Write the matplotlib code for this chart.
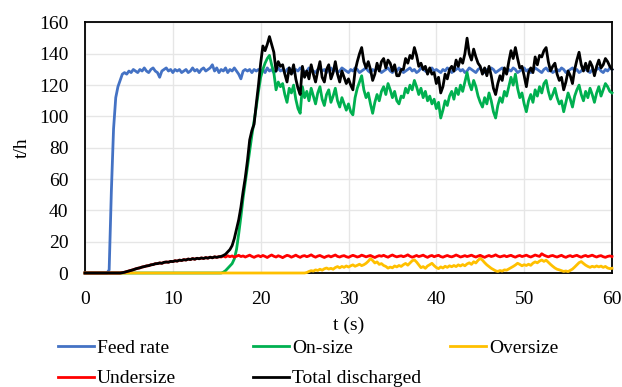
import numpy as np
import matplotlib
matplotlib.use("Agg")
import matplotlib.pyplot as plt

plt.rcParams["font.family"] = ["Liberation Serif", "DejaVu Serif"]
plt.rcParams["font.size"] = 14

# sampled every 0.25 s, 8 values per row (= 2 s per row)
STEP = 0.25

feed_rate = [
    0, 0, 0, 0, 0, 0, 0, 0,                          # 0 s
    0, 0, 0, 2, 52, 92, 112, 119,                    # 2 s
    123, 127, 128, 127, 129, 128, 130, 129,          # 4 s
    128, 130, 129, 131, 129, 128, 130, 131,          # 6 s
    129, 128, 125, 129, 130, 131, 129, 130,          # 8 s
    128, 130, 129, 130, 128, 129, 130, 128,          # 10 s
    129, 131, 129, 130, 128, 130, 131, 129,          # 12 s
    130, 131, 133, 129, 131, 128, 130, 129,          # 14 s
    131, 128, 130, 129, 131, 129, 127, 124,          # 16 s
    129, 130, 129, 130, 128, 130, 129, 130,          # 18 s
    129, 130, 128, 131, 129, 130, 128, 129,          # 20 s
    131, 129, 130, 128, 130, 131, 129, 128,          # 22 s
    130, 129, 131, 130, 128, 129, 131, 130,          # 24 s
    129, 128, 130, 131, 129, 130, 128, 130,          # 26 s
    131, 129, 130, 128, 129, 131, 130, 129,          # 28 s
    128, 130, 129, 131, 130, 128, 129, 130,          # 30 s
    131, 129, 128, 130, 129, 131, 130, 128,          # 32 s
    129, 130, 131, 129, 128, 130, 129, 131,          # 34 s
    130, 128, 129, 130, 131, 129, 130, 128,          # 36 s
    129, 131, 130, 129, 128, 130, 131, 129,          # 38 s
    130, 129, 128, 130, 129, 131, 130, 128,          # 40 s
    129, 130, 131, 129, 130, 128, 129, 131,          # 42 s
    130, 129, 128, 130, 131, 129, 128, 130,          # 44 s
    129, 131, 130, 128, 129, 130, 131, 129,          # 46 s
    128, 130, 129, 131, 130, 128, 129, 130,          # 48 s
    131, 129, 130, 128, 129, 131, 130, 129,          # 50 s
    128, 130, 131, 129, 130, 128, 129, 130,          # 52 s
    129, 131, 130, 128, 129, 130, 131, 129,          # 54 s
    130, 128, 129, 131, 130, 129, 128, 130,          # 56 s
    129, 130, 131, 129, 128, 130, 129, 131,          # 58 s
    130,
]

on_size = [
    0, 0, 0, 0, 0, 0, 0, 0,                          # 0 s
    0, 0, 0, 0, 0, 0, 0, 0,                          # 2 s
    0, 0, 0, 0, 0, 0, 0, 0,                          # 4 s
    0, 0, 0, 0, 0, 0, 0, 0,                          # 6 s
    0, 0, 0, 0, 0, 0, 0, 0,                          # 8 s
    0, 0, 0, 0, 0, 0, 0, 0,                          # 10 s
    0, 0, 0, 0, 0, 0, 0, 0,                          # 12 s
    0, 0, 0, 0, 0, 0, 0, 0.5,                        # 14 s
    1.5, 3, 4.5, 6, 9, 15, 25, 36,                   # 16 s
    48, 58, 68, 78, 88, 97, 106, 116,                # 18 s
    125, 130, 134, 137, 139, 133, 128, 117,          # 20 s
    122, 119, 121, 114, 109, 118, 115, 120,          # 22 s
    111, 105, 102, 119, 112, 116, 110, 118,          # 24 s
    113, 108, 115, 119, 111, 107, 114, 117,          # 26 s
    109, 113, 118, 110, 106, 112, 108, 104,          # 28 s
    108, 103, 101, 112, 118, 122, 126, 117,          # 30 s
    112, 115, 108, 102, 109, 114, 110, 116,          # 32 s
    119, 114, 121, 117, 112, 116, 110, 108,          # 34 s
    113, 112, 118, 115, 120, 117, 123, 119,          # 36 s
    114, 118, 112, 116, 110, 113, 108, 111,          # 38 s
    105, 109, 99, 104, 110, 107, 113, 116,           # 40 s
    111, 118, 114, 120, 116, 122, 128, 121,          # 42 s
    117, 123, 119, 113, 109, 106, 112, 108,          # 44 s
    115, 110, 103, 99, 107, 112, 109, 116,           # 46 s
    113, 119, 125, 120, 127, 118, 112, 115,          # 48 s
    108, 103, 110, 114, 109, 117, 113, 119,          # 50 s
    115, 121, 123, 116, 111, 114, 118, 112,          # 52 s
    108, 110, 103, 109, 115, 111, 106, 113,          # 54 s
    117, 120, 114, 110, 116, 112, 118, 114,          # 56 s
    109, 115, 119, 113, 117, 121, 119, 116,          # 58 s
    115,
]

oversize = [
    0, 0, 0, 0, 0, 0, 0, 0,                          # 0 s
    0, 0, 0, 0, 0, 0, 0, 0,                          # 2 s
    0, 0, 0, 0, 0, 0, 0, 0,                          # 4 s
    0, 0, 0, 0, 0, 0, 0, 0,                          # 6 s
    0, 0, 0, 0, 0, 0, 0, 0,                          # 8 s
    0, 0, 0, 0, 0, 0, 0, 0,                          # 10 s
    0, 0, 0, 0, 0, 0, 0, 0,                          # 12 s
    0, 0, 0, 0, 0, 0, 0, 0,                          # 14 s
    0, 0, 0, 0, 0, 0, 0, 0,                          # 16 s
    0, 0, 0, 0, 0, 0, 0, 0,                          # 18 s
    0, 0, 0, 0, 0, 0, 0, 0,                          # 20 s
    0, 0, 0, 0, 0, 0, 0, 0,                          # 22 s
    0, 0, 0, 0, 0, 0.3, 1.0, 1.5,                    # 24 s
    1.2, 2.0, 1.6, 2.4, 1.8, 2.7, 3.2, 2.5,          # 26 s
    3.0, 2.4, 3.5, 4.1, 3.3, 4.2, 3.6, 4.5,          # 28 s
    3.8, 4.6, 5.2, 4.3, 4.9, 5.6, 4.7, 5.3,          # 30 s
    6.2, 7.5, 9.2, 8.0, 6.4, 7.1, 5.5, 6.0,          # 32 s
    4.8, 4.2, 3.1, 3.8, 3.3, 4.5, 3.9, 4.8,          # 34 s
    4.2, 5.3, 6.1, 5.0, 6.4, 7.8, 8.4, 7.0,          # 36 s
    5.2, 3.4, 4.1, 3.0, 4.5, 5.3, 6.2, 4.7,          # 38 s
    3.5, 2.8, 3.9, 3.2, 4.3, 3.6, 4.6, 4.0,          # 40 s
    4.8, 4.1, 5.2, 4.5, 5.4, 4.6, 5.8, 6.5,          # 42 s
    5.5, 7.2, 6.4, 8.1, 9.4, 8.2, 6.6, 5.2,          # 44 s
    4.1, 3.0, 2.2, 1.4, 1.0, 1.6, 1.2, 2.0,          # 46 s
    1.8, 2.6, 3.4, 4.2, 5.1, 6.2, 5.5, 4.6,          # 48 s
    5.3, 4.8, 5.6, 4.9, 6.3, 7.1, 6.5, 7.6,          # 50 s
    8.3, 7.4, 8.2, 6.8, 5.5, 4.3, 3.2, 2.4,          # 52 s
    2.0, 1.5, 1.0, 1.3, 0.9, 1.7, 2.5, 3.8,          # 54 s
    5.2, 6.6, 7.3, 6.1, 5.0, 4.2, 3.6, 4.3,          # 56 s
    3.8, 4.5, 3.9, 4.4, 3.6, 4.2, 3.2, 2.8,          # 58 s
    3.0,
]

undersize = [
    0, 0, 0, 0, 0, 0, 0, 0,                          # 0 s
    0, 0, 0, 0, 0, 0, 0, 0,                          # 2 s
    0, 0.2, 0.5, 0.9, 1.3, 1.7, 2.1, 2.6,            # 4 s
    3.0, 3.3, 3.8, 4.1, 4.5, 4.7, 5.2, 5.4,          # 6 s
    5.9, 6.0, 6.4, 6.2, 6.8, 7.0, 6.9, 7.4,          # 8 s
    7.3, 7.8, 7.6, 8.2, 8.0, 8.5, 8.3, 8.9,          # 10 s
    8.6, 9.2, 8.8, 9.4, 9.1, 9.6, 9.3, 9.8,          # 12 s
    9.5, 10.1, 9.7, 10.3, 10.0, 10.4, 10.2, 10.8,    # 14 s
    10.2, 11.0, 10.4, 10.9, 10.1, 10.7, 11.3, 10.5,  # 16 s
    10.9, 10.2, 10.8, 11.4, 10.6, 10.0, 10.7, 11.1,  # 18 s
    10.4, 11.2, 10.6, 9.9, 10.8, 11.5, 10.7, 10.2,   # 20 s
    11.0, 10.5, 9.8, 10.6, 11.3, 10.9, 10.1, 10.7,   # 22 s
    11.4, 10.6, 10.0, 10.8, 11.1, 10.4, 10.9, 11.6,  # 24 s
    10.7, 10.1, 10.8, 11.2, 10.5, 9.9, 10.6, 11.0,   # 26 s
    10.3, 10.9, 11.5, 10.6, 10.2, 10.8, 11.1, 10.4,  # 28 s
    10.0, 10.7, 11.3, 10.8, 10.2, 10.6, 11.4, 10.9,  # 30 s
    10.3, 10.8, 11.2, 10.5, 9.9, 10.6, 11.1, 10.7,   # 32 s
    11.3, 10.6, 10.1, 10.9, 11.5, 10.8, 10.3, 10.7,  # 34 s
    11.0, 10.4, 10.9, 11.6, 10.7, 10.1, 10.6, 11.2,  # 36 s
    10.5, 10.9, 11.4, 10.6, 10.0, 10.8, 11.2, 10.4,  # 38 s
    10.9, 11.3, 10.5, 10.1, 10.7, 11.2, 10.6, 10.3,  # 40 s
    10.8, 11.5, 10.9, 10.2, 10.6, 11.1, 10.5, 10.9,  # 42 s
    11.4, 10.7, 10.2, 10.8, 11.3, 10.6, 10.0, 10.7,  # 44 s
    11.2, 10.5, 10.9, 11.6, 10.8, 10.3, 10.7, 11.1,  # 46 s
    10.4, 10.9, 11.3, 10.6, 10.1, 10.8, 11.2, 10.5,  # 48 s
    10.9, 11.4, 10.7, 10.2, 10.8, 11.5, 11.0, 10.6,  # 50 s
    12.3, 11.4, 10.8, 10.3, 10.9, 11.2, 10.6, 10.2,  # 52 s
    10.8, 11.3, 10.5, 10.0, 10.7, 11.1, 10.4, 10.9,  # 54 s
    11.3, 10.6, 10.1, 10.8, 11.2, 10.5, 10.9, 11.4,  # 56 s
    10.7, 10.2, 10.8, 11.1, 10.4, 10.0, 10.6, 10.9,  # 58 s
    10.5,
]

total_discharged = [
    0, 0, 0, 0, 0, 0, 0, 0,                          # 0 s
    0, 0, 0, 0, 0, 0, 0, 0,                          # 2 s
    0, 0.2, 0.5, 0.9, 1.3, 1.7, 2.1, 2.6,            # 4 s
    3.0, 3.3, 3.8, 4.1, 4.5, 4.7, 5.2, 5.4,          # 6 s
    5.9, 6.0, 6.4, 6.2, 6.8, 7.0, 6.9, 7.4,          # 8 s
    7.3, 7.8, 7.6, 8.2, 8.0, 8.5, 8.3, 8.9,          # 10 s
    8.6, 9.2, 8.8, 9.4, 9.1, 9.6, 9.3, 9.8,          # 12 s
    9.5, 10.1, 9.7, 10.3, 10.0, 10.4, 10.6, 11.2,    # 14 s
    12, 13.5, 15, 17.5, 22, 28, 34, 42,              # 16 s
    52, 61, 72, 85, 91, 95, 108, 120,                # 18 s
    134, 145, 142, 146, 151, 146, 141, 129,          # 20 s
    135, 132, 133, 127, 122, 131, 127, 133,          # 22 s
    124, 118, 114, 132, 125, 129, 124, 133,          # 24 s
    127, 122, 129, 135, 125, 122, 130, 133,          # 26 s
    124, 128, 135, 127, 122, 129, 125, 121,          # 28 s
    124, 120, 117, 129, 135, 140, 144, 135,          # 30 s
    131, 135, 130, 123, 127, 134, 129, 135,          # 32 s
    137, 131, 136, 134, 129, 133, 126, 126,          # 34 s
    130, 130, 137, 134, 139, 137, 144, 139,          # 36 s
    132, 134, 130, 132, 127, 131, 127, 128,          # 38 s
    121, 125, 115, 119, 127, 124, 130, 132,          # 40 s
    129, 136, 132, 137, 134, 140, 150, 140,          # 42 s
    136, 143, 138, 134, 132, 127, 131, 126,          # 44 s
    132, 126, 118, 114, 121, 126, 123, 131,          # 46 s
    127, 135, 142, 137, 144, 137, 131, 132,          # 48 s
    126, 119, 128, 131, 128, 138, 133, 139,          # 50 s
    138, 142, 144, 135, 129, 132, 134, 127,          # 52 s
    123, 125, 117, 122, 129, 126, 121, 130,          # 54 s
    136, 141, 133, 129, 134, 129, 135, 132,          # 56 s
    126, 132, 136, 131, 133, 137, 135, 132,          # 58 s
    130,
]

series = [
    ("Feed rate", feed_rate, "#4472C4"),
    ("On-size", on_size, "#00B050"),
    ("Oversize", oversize, "#FFC000"),
    ("Undersize", undersize, "#FF0000"),
    ("Total discharged", total_discharged, "black"),
]

fig = plt.figure(figsize=(6.22, 3.87), dpi=100)
ax = fig.add_axes([85 / 622, 114 / 387, 527 / 622, 250.5 / 387])

lines = {}
for name, vals, color in series:
    t = np.arange(len(vals)) * STEP
    (ln,) = ax.plot(t, vals, color=color, lw=2.0, label=name, zorder=3, clip_on=False)
    lines[name] = ln

ax.set_xlim(0, 60)
ax.set_ylim(0, 160)
ax.set_xticks(range(0, 61, 10))
ax.set_yticks(range(0, 161, 20))
ax.tick_params(axis="x", length=0, pad=13)
ax.tick_params(axis="y", length=0, pad=12)
ax.grid(True, color="#E6E6E6", lw=1.0)
ax.set_axisbelow(True)
for sp in ax.spines.values():
    sp.set_color("black")
    sp.set_linewidth(1.3)
    sp.set_zorder(2.5)

ax.set_xlabel("t (s)", labelpad=6)
ax.set_ylabel("t/h", labelpad=6)

# legend laid out in fixed columns like the original
cols = [
    (["Feed rate", "Undersize"], 58 / 622),
    (["On-size", "Total discharged"], 253 / 622),
    (["Oversize"], 450 / 622),
]
for names, x in cols:
    fig.legend(
        handles=[lines[n] for n in names],
        loc="upper left",
        bbox_to_anchor=(x, 48 / 387),
        frameon=False,
        handlelength=1.85,
        handletextpad=0.15,
        labelspacing=0.68,
        borderaxespad=0,
        borderpad=0,
    )

fig.savefig("out.png", dpi=100)
